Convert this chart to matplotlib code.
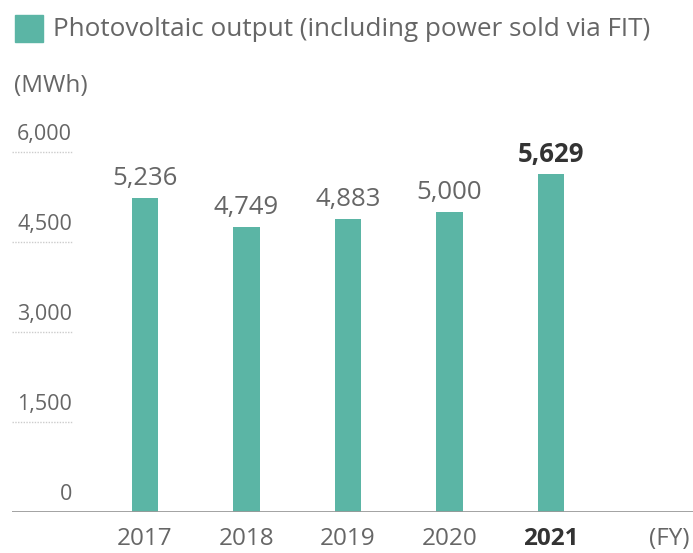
import matplotlib.pyplot as plt
from matplotlib.patches import Rectangle

years = ['2017', '2018', '2019', '2020', '2021']
output_mwh = [5236, 4749, 4883, 5000, 5629]
ytick_values = [0, 1500, 3000, 4500, 6000]
ytick_labels = ['0', '1,500', '3,000', '4,500', '6,000']

bar_color = '#5bb5a5'
text_color = '#666666'
plt.rcParams['font.family'] = ['Open Sans', 'DejaVu Sans']

W, H = 693, 553
fig = plt.figure(figsize=(W / 100, H / 100), dpi=100)

# axes: x from 12px to 693px, y from 512px (value 0) to 152px (value 6000)
ax = fig.add_axes([12 / W, (H - 512) / H, 681 / W, 360 / H])
ax.set_ylim(0, 6000)
ax.set_xlim(-1.31, 5.40)

x = list(range(len(years)))
ax.bar(x, output_mwh, width=0.26, color=bar_color, zorder=2)

for xi, v, yr in zip(x, output_mwh, years):
    bold = yr == '2021'
    ax.text(xi, v + 110, f'{v:,}', ha='center', va='bottom', fontsize=18.5,
            color='#333333' if bold else text_color,
            fontweight='bold' if bold else 'normal')
    ax.text(xi, -445, yr, ha='center', va='center', fontsize=17.5,
            color='#333333' if bold else text_color,
            fontweight='bold' if bold else 'normal')
ax.text(5.17, -445, '(FY)', ha='center', va='center', fontsize=17.5, color=text_color)

# y labels sitting on short dotted underlines
for v, lab in zip(ytick_values, ytick_labels):
    ax.text(0.088, v + 120, lab, transform=ax.get_yaxis_transform(),
            ha='right', va='bottom', fontsize=15.5, color=text_color)
    if v > 0:
        ax.plot([0.0, 0.088], [v, v], transform=ax.get_yaxis_transform(),
                color='#cccccc', lw=1, ls=(0, (1, 1)), clip_on=False)

ax.axhline(0, color='#999999', lw=2, zorder=3)
for s in ax.spines.values():
    s.set_visible(False)
ax.set_xticks([])
ax.set_yticks([])

# legend and unit
fig.patches.append(Rectangle((15 / W, 1 - 42 / H), 28 / W, 27 / H,
                             transform=fig.transFigure, color=bar_color))
fig.text(53 / W, 1 - 30 / H, 'Photovoltaic output (including power sold via FIT)',
         ha='left', va='center', fontsize=18.8, color=text_color)
fig.text(14 / W, 1 - 86 / H, '(MWh)', ha='left', va='center', fontsize=17.5, color=text_color)

fig.savefig('out.png', dpi=100)
